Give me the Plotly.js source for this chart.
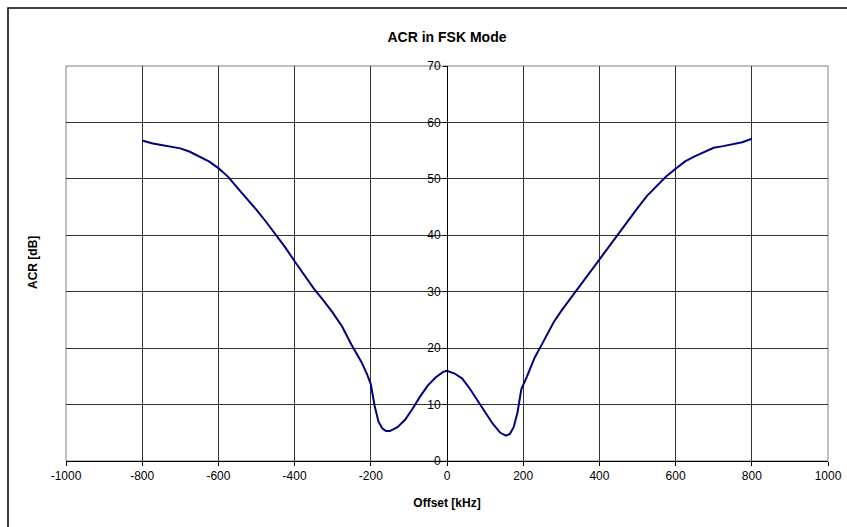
<!DOCTYPE html>
<html>
<head>
<meta charset="utf-8">
<script src="https://cdn.plot.ly/plotly-3.0.1.min.js"></script>
<style>html,body{margin:0;padding:0;background:#fff;}</style>
</head>
<body>
<div id="chart" style="width:847px;height:527px;"></div>
<script>
const offsetKHz = [-800,-775,-750,-700,-675,-650,-625,-600,-575,-550,-525,-500,-475,-450,-425,-400,-375,-350,-325,-300,-275,-250,-225,-210,-200,-190,-180,-170,-160,-150,-130,-110,-90,-70,-50,-30,-10,0,20,40,60,80,100,120,140,155,165,175,185,195,210,230,250,270,280,300,325,350,375,400,425,450,475,500,525,550,575,600,625,650,675,700,725,750,775,800];
const acrDb = [56.8,56.3,56.0,55.4,54.8,54.0,53.1,51.9,50.4,48.4,46.5,44.5,42.4,40.2,37.9,35.4,33.0,30.6,28.5,26.3,23.8,20.5,17.6,15.4,13.6,9.8,7.0,5.8,5.3,5.3,6.0,7.3,9.3,11.5,13.4,14.8,15.8,16.0,15.5,14.6,12.8,10.8,8.6,6.6,5.0,4.5,4.8,6.0,8.6,12.7,15.0,18.3,20.8,23.3,24.6,26.6,28.9,31.0,33.5,35.8,38.0,40.2,42.5,44.8,47.0,48.7,50.4,51.8,53.1,54.0,54.8,55.5,55.8,56.2,56.5,57.1];
const xTicks = [-1000,-800,-600,-400,-200,0,200,400,600,800,1000];
const yTicks = [0,10,20,30,40,50,60,70];

const W = 847, H = 527, mL = 66, mR = 19, mT = 66, mB = 66;
const pw = W - mL - mR, ph = H - mT - mB;
const px = v => (v - mL) / pw;
const py = v => (H - mB - v) / ph;

const fam = 'Liberation Sans, Arial, sans-serif';
const f = size => ({family: fam, size: size, color: '#000000'});

Plotly.newPlot('chart', [{
  x: offsetKHz, y: acrDb, type: 'scatter', mode: 'lines',
  line: {color: '#000080', width: 2}, hoverinfo: 'skip'
}], {
  width: W, height: H,
  margin: {l: mL, r: mR, t: mT, b: mB, pad: 0},
  paper_bgcolor: '#fff', plot_bgcolor: '#fff',
  showlegend: false,
  font: f(12),
  title: {text: '<b>ACR in FSK Mode</b>', font: f(14),
          x: 0.5 * (mL + W - mR) / W, xanchor: 'center', xref: 'container',
          y: 1 - 37 / H, yanchor: 'middle', yref: 'container'},
  xaxis: {
    range: [-1000, 1000], tickvals: xTicks, ticktext: xTicks.map(String),
    showgrid: true, gridcolor: '#333', gridwidth: 1,
    zeroline: false, showline: true, linecolor: '#000', linewidth: 1,
    ticks: 'outside', ticklen: 4, tickcolor: '#000',
    tickfont: f(12),
    title: {text: '<b>Offset [kHz]</b>', font: f(12), standoff: 16},
    fixedrange: true
  },
  yaxis: {
    range: [0, 70], tickvals: yTicks, ticktext: yTicks.map(String),
    anchor: 'free', position: 0.5,
    showgrid: true, gridcolor: '#333', gridwidth: 1,
    zeroline: false, showline: true, linecolor: '#000', linewidth: 1,
    ticks: 'outside', ticklen: 4, tickcolor: '#000',
    tickfont: f(12),
    fixedrange: true
  },
  annotations: [{
    text: '<b>ACR [dB]</b>', textangle: -90, showarrow: false,
    xref: 'paper', yref: 'paper', x: px(33), y: py(263),
    xanchor: 'center', yanchor: 'middle', font: f(12)
  }],
  shapes: [
    {type: 'rect', xref: 'paper', yref: 'paper', x0: 0, x1: 1, y0: 0, y1: 1,
     line: {color: '#808080', width: 1}, layer: 'below'},
    {type: 'rect', xref: 'paper', yref: 'paper', x0: px(8), x1: px(W + 20), y0: py(H + 20), y1: py(8),
     line: {color: '#000', width: 1.5}, fillcolor: 'rgba(0,0,0,0)'}
  ]
}, {staticPlot: true});
</script>
</body>
</html>
